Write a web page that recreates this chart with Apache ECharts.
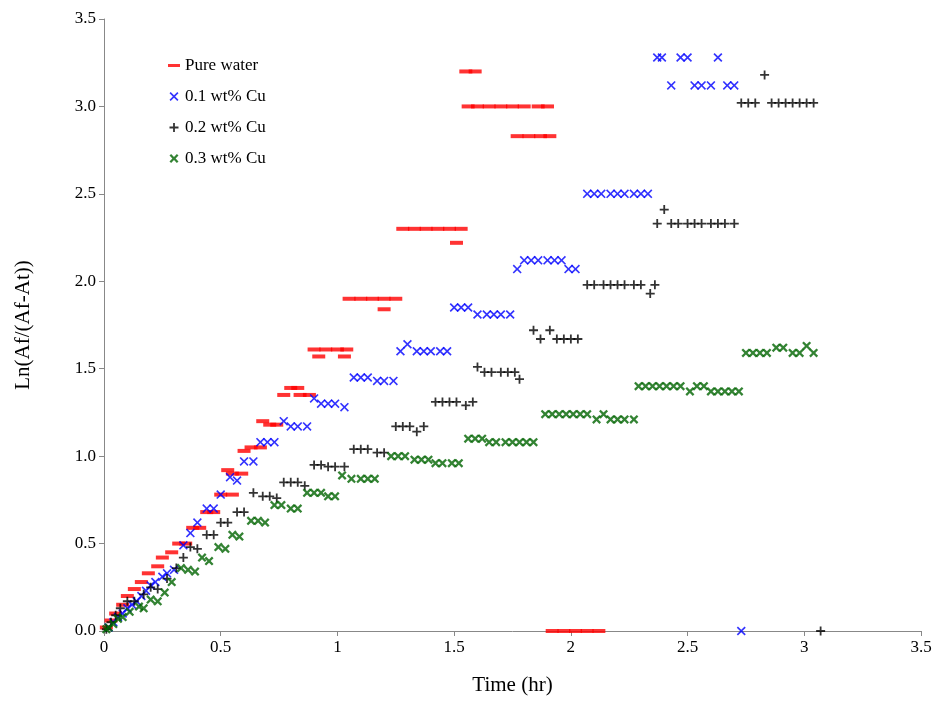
<!DOCTYPE html>
<html><head><meta charset="utf-8">
<script src="https://cdn.jsdelivr.net/npm/echarts@6/dist/echarts.min.js"></script>
<style>html,body{margin:0;background:#fff}#c{width:936px;height:726px}</style>
</head><body><div id="c"></div>
<script>
// [time (hr), Ln(Af/(Af-At))]
var pureWater = [[0.01,0.02],[0.03,0.06],[0.05,0.10],[0.08,0.15],[0.10,0.20],[0.13,0.24],[0.16,0.28],[0.19,0.33],[0.23,0.37],[0.25,0.42],[0.29,0.45],[0.32,0.50],[0.35,0.50],[0.38,0.59],[0.41,0.59],[0.44,0.68],[0.47,0.68],[0.50,0.78],[0.55,0.78],[0.53,0.92],[0.55,0.90],[0.59,0.90],[0.60,1.03],[0.63,1.05],[0.67,1.05],[0.68,1.20],[0.71,1.18],[0.74,1.18],[0.77,1.35],[0.80,1.39],[0.83,1.39],[0.84,1.35],[0.88,1.35],[0.92,1.57],[0.90,1.61],[0.95,1.61],[1.00,1.61],[1.04,1.61],[1.03,1.57],[1.05,1.90],[1.10,1.90],[1.15,1.90],[1.20,1.90],[1.25,1.90],[1.20,1.84],[1.28,2.30],[1.33,2.30],[1.38,2.30],[1.43,2.30],[1.48,2.30],[1.53,2.30],[1.51,2.22],[1.55,3.20],[1.59,3.20],[1.56,3.00],[1.60,3.00],[1.65,3.00],[1.70,3.00],[1.75,3.00],[1.80,3.00],[1.86,3.00],[1.90,3.00],[1.77,2.83],[1.82,2.83],[1.87,2.83],[1.91,2.83],[1.92,0],[1.97,0],[2.02,0],[2.07,0],[2.12,0]];
var cu01 = [[0.02,0.02],[0.04,0.05],[0.06,0.08],[0.08,0.10],[0.10,0.13],[0.12,0.15],[0.14,0.17],[0.16,0.20],[0.18,0.23],[0.20,0.26],[0.22,0.28],[0.25,0.31],[0.27,0.33],[0.30,0.35],[0.34,0.49],[0.37,0.56],[0.40,0.62],[0.44,0.70],[0.47,0.70],[0.50,0.78],[0.54,0.88],[0.57,0.86],[0.60,0.97],[0.64,0.97],[0.67,1.08],[0.70,1.08],[0.73,1.08],[0.77,1.20],[0.80,1.17],[0.83,1.17],[0.87,1.17],[0.90,1.33],[0.93,1.30],[0.96,1.30],[0.99,1.30],[1.03,1.28],[1.07,1.45],[1.10,1.45],[1.13,1.45],[1.17,1.43],[1.20,1.43],[1.24,1.43],[1.27,1.60],[1.30,1.64],[1.34,1.60],[1.37,1.60],[1.40,1.60],[1.44,1.60],[1.47,1.60],[1.50,1.85],[1.53,1.85],[1.56,1.85],[1.60,1.81],[1.64,1.81],[1.67,1.81],[1.70,1.81],[1.74,1.81],[1.77,2.07],[1.80,2.12],[1.83,2.12],[1.86,2.12],[1.90,2.12],[1.93,2.12],[1.96,2.12],[1.99,2.07],[2.02,2.07],[2.07,2.50],[2.10,2.50],[2.13,2.50],[2.17,2.50],[2.20,2.50],[2.23,2.50],[2.27,2.50],[2.30,2.50],[2.33,2.50],[2.37,3.28],[2.39,3.28],[2.47,3.28],[2.50,3.28],[2.63,3.28],[2.43,3.12],[2.53,3.12],[2.56,3.12],[2.60,3.12],[2.67,3.12],[2.70,3.12],[2.73,0]];
var cu02 = [[0.01,0.01],[0.03,0.05],[0.05,0.09],[0.07,0.13],[0.10,0.17],[0.13,0.17],[0.17,0.21],[0.20,0.25],[0.23,0.24],[0.27,0.30],[0.31,0.36],[0.34,0.42],[0.37,0.48],[0.40,0.47],[0.44,0.55],[0.47,0.55],[0.50,0.62],[0.53,0.62],[0.57,0.68],[0.60,0.68],[0.64,0.79],[0.68,0.77],[0.71,0.77],[0.74,0.76],[0.77,0.85],[0.80,0.85],[0.83,0.85],[0.86,0.83],[0.90,0.95],[0.93,0.95],[0.96,0.94],[0.99,0.94],[1.03,0.94],[1.07,1.04],[1.10,1.04],[1.13,1.04],[1.17,1.02],[1.20,1.02],[1.25,1.17],[1.28,1.17],[1.31,1.17],[1.34,1.14],[1.37,1.17],[1.42,1.31],[1.45,1.31],[1.48,1.31],[1.51,1.31],[1.55,1.29],[1.58,1.31],[1.60,1.51],[1.63,1.48],[1.66,1.48],[1.70,1.48],[1.73,1.48],[1.76,1.48],[1.78,1.44],[1.84,1.72],[1.87,1.67],[1.91,1.72],[1.94,1.67],[1.97,1.67],[2.00,1.67],[2.03,1.67],[2.07,1.98],[2.10,1.98],[2.14,1.98],[2.17,1.98],[2.20,1.98],[2.23,1.98],[2.27,1.98],[2.30,1.98],[2.34,1.93],[2.36,1.98],[2.37,2.33],[2.40,2.41],[2.43,2.33],[2.46,2.33],[2.50,2.33],[2.53,2.33],[2.56,2.33],[2.60,2.33],[2.63,2.33],[2.66,2.33],[2.70,2.33],[2.73,3.02],[2.76,3.02],[2.79,3.02],[2.83,3.18],[2.86,3.02],[2.89,3.02],[2.92,3.02],[2.95,3.02],[2.98,3.02],[3.01,3.02],[3.04,3.02],[3.07,0]];
var cu03 = [[0.01,0.01],[0.02,0.02],[0.04,0.04],[0.06,0.07],[0.08,0.08],[0.11,0.11],[0.15,0.14],[0.17,0.13],[0.20,0.18],[0.23,0.17],[0.26,0.22],[0.29,0.28],[0.33,0.36],[0.36,0.35],[0.39,0.34],[0.42,0.42],[0.45,0.40],[0.49,0.48],[0.52,0.47],[0.55,0.55],[0.58,0.54],[0.63,0.63],[0.66,0.63],[0.69,0.62],[0.73,0.72],[0.76,0.72],[0.80,0.70],[0.83,0.70],[0.87,0.79],[0.90,0.79],[0.93,0.79],[0.96,0.77],[0.99,0.77],[1.02,0.89],[1.06,0.87],[1.10,0.87],[1.13,0.87],[1.16,0.87],[1.23,1.00],[1.26,1.00],[1.29,1.00],[1.33,0.98],[1.36,0.98],[1.39,0.98],[1.42,0.96],[1.45,0.96],[1.49,0.96],[1.52,0.96],[1.56,1.10],[1.59,1.10],[1.62,1.10],[1.65,1.08],[1.68,1.08],[1.72,1.08],[1.75,1.08],[1.78,1.08],[1.81,1.08],[1.84,1.08],[1.89,1.24],[1.92,1.24],[1.95,1.24],[1.98,1.24],[2.01,1.24],[2.04,1.24],[2.07,1.24],[2.11,1.21],[2.14,1.24],[2.17,1.21],[2.20,1.21],[2.23,1.21],[2.27,1.21],[2.29,1.40],[2.32,1.40],[2.35,1.40],[2.38,1.40],[2.41,1.40],[2.44,1.40],[2.47,1.40],[2.51,1.37],[2.54,1.40],[2.57,1.40],[2.60,1.37],[2.63,1.37],[2.66,1.37],[2.69,1.37],[2.72,1.37],[2.75,1.59],[2.78,1.59],[2.81,1.59],[2.84,1.59],[2.88,1.62],[2.91,1.62],[2.95,1.59],[2.98,1.59],[3.01,1.63],[3.04,1.59]];
var seriesNames = ['Pure water','0.1 wt% Cu','0.2 wt% Cu','0.3 wt% Cu'];

var X_PATH = 'path://M1.3,0L5,3.7L8.7,0L10,1.3L6.3,5L10,8.7L8.7,10L5,6.3L1.3,10L0,8.7L3.7,5L0,1.3Z';
var X_BOLD = 'path://M1.8,0L5,3.2L8.2,0L10,1.8L6.8,5L10,8.2L8.2,10L5,6.8L1.8,10L0,8.2L3.2,5L0,1.8Z';
var PLUS_PATH = 'path://M4,0H6V4H10V6H6V10H4V6H0V4H4Z';
var font = 'Liberation Serif';

var chart = echarts.init(document.getElementById('c'));
function mk(name, data, symbol, size, color){
	return {name:name,type:'scatter',data:data,symbol:symbol,symbolSize:size,
		itemStyle:{color:color},animation:false};
}
chart.setOption({
	backgroundColor:'#fff',
	textStyle:{fontFamily:font},
	grid:{left:104,right:15,top:19,bottom:95},
	legend:{orient:'vertical',left:163,top:52,itemGap:14,itemWidth:12,itemHeight:9,
		textStyle:{fontFamily:font,fontSize:17,color:'#000'},
		data:[{name:seriesNames[0],icon:'path://M0,4H12V7H0Z'},{name:seriesNames[1],icon:X_PATH},{name:seriesNames[2],icon:PLUS_PATH},{name:seriesNames[3],icon:X_BOLD}]},
	xAxis:{type:'value',min:0,max:3.5,interval:0.5,name:'Time (hr)',nameLocation:'middle',nameGap:44,
		nameTextStyle:{fontFamily:font,fontSize:21,color:'#000'},
		axisLine:{lineStyle:{color:'#888'}},axisTick:{lineStyle:{color:'#888'},length:5},splitLine:{show:false},
		axisLabel:{fontFamily:font,fontSize:17,color:'#000',formatter:function(v){return String(v);}}},
	yAxis:{type:'value',min:0,max:3.5,interval:0.5,name:'Ln(Af/(Af-At))',nameLocation:'middle',nameGap:70,
		nameTextStyle:{fontFamily:font,fontSize:21,color:'#000'},
		axisLine:{show:true,lineStyle:{color:'#888'}},axisTick:{show:true,lineStyle:{color:'#888'},length:5},splitLine:{show:false},
		axisLabel:{fontFamily:font,fontSize:17,color:'#000',formatter:function(v){return v.toFixed(1);}}},
	series:[
		mk(seriesNames[0],pureWater,'rect',[13,4],'#ff0000'),
		mk(seriesNames[1],cu01,X_PATH,9,'#0000ff'),
		mk(seriesNames[2],cu02,PLUS_PATH,9,'#000000'),
		mk(seriesNames[3],cu03,X_BOLD,9,'#006400')
	]
});
</script></body></html>
